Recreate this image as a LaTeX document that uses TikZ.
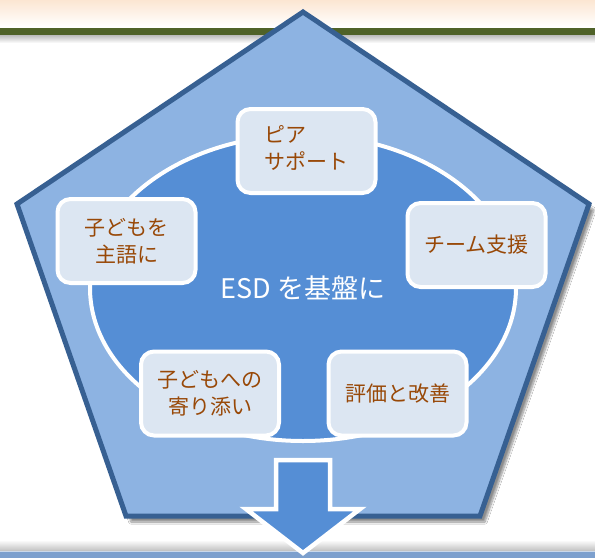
\documentclass[tikz,border=0pt]{standalone}
\usepackage{fontspec}
\setmainfont{Noto Sans CJK JP}
\usetikzlibrary{shapes.geometric,shadows.blur}
\definecolor{peach}{HTML}{FCE6D2}
\definecolor{olivebar}{HTML}{4F6228}
\definecolor{pentfill}{HTML}{8DB3E2}
\definecolor{pentline}{HTML}{376092}
\definecolor{ellfill}{HTML}{558ED5}
\definecolor{boxfill}{HTML}{DCE6F2}
\definecolor{txtbrown}{HTML}{984807}
\definecolor{botbar}{HTML}{7DA0CE}
\tikzset{
  pent/.style={fill=pentfill,draw=pentline,line width=5pt,line join=miter},
  ring/.style={ellipse,fill=ellfill,draw=white,line width=4pt,inner sep=0pt,
    minimum width=426pt,minimum height=306pt,text=white,font=\fontsize{27pt}{32pt}\selectfont},
  item/.style={rectangle,rounded corners=13pt,fill=boxfill,draw=white,line width=4pt,
    minimum width=138pt,minimum height=84pt,inner sep=0pt,text=txtbrown,
    font=\fontsize{21pt}{27pt}\selectfont,align=center},
  downarrow/.style={fill=ellfill,draw=white,line width=4.5pt,line join=miter}
}
\begin{document}
\begin{tikzpicture}[x=1pt,y=-1pt]
\useasboundingbox (0,0) rectangle (595,558);
\fill[white] (0,0) rectangle (595,558);
% top band
\shade[top color=peach,bottom color=white] (0,0) rectangle (595,27);
\shade[top color=black!30,bottom color=white] (0,34) rectangle (595,43);
\fill[olivebar] (0,28) rectangle (595,34.5);
% bottom band
\shade[top color=white,bottom color=black!25] (0,540) rectangle (595,551);
\fill[botbar] (0,551) rectangle (595,558);
\fill[white!60!botbar] (0,550.5) rectangle (595,552);
% pentagon
\path[pent,blur shadow={shadow xshift=5pt,shadow yshift=-6pt,shadow blur steps=10,shadow opacity=45}]
  (303,12) coordinate (apex) -- (589,204) coordinate (rv) -- (480,516) coordinate (brv)
  -- (126,516) coordinate (blv) -- (17,204) coordinate (lv) -- cycle;
% ellipse
\node[ring] (core) at (303,288) {ESD を基盤に};
% boxes
\node[item] (peer) at (306.5,151) {\begin{tabular}{@{}l@{}}ピア\\サポート\end{tabular}};
\node[item] (child) at (126.5,241) {子どもを\\主語に};
\node[item] (team) at (476.5,245) {チーム支援};
\node[item] (close) at (210,393.5) {子どもへの\\寄り添い};
\node[item] (eval) at (397.5,393.5) {評価と改善};
% arrow
\draw[downarrow] (276,460) coordinate (a1) -- (330,460) -- (330,509) -- (360,509)
  -- (303,553) coordinate (tip) -- (246,509) -- (276,509) -- cycle;
\end{tikzpicture}
\end{document}
